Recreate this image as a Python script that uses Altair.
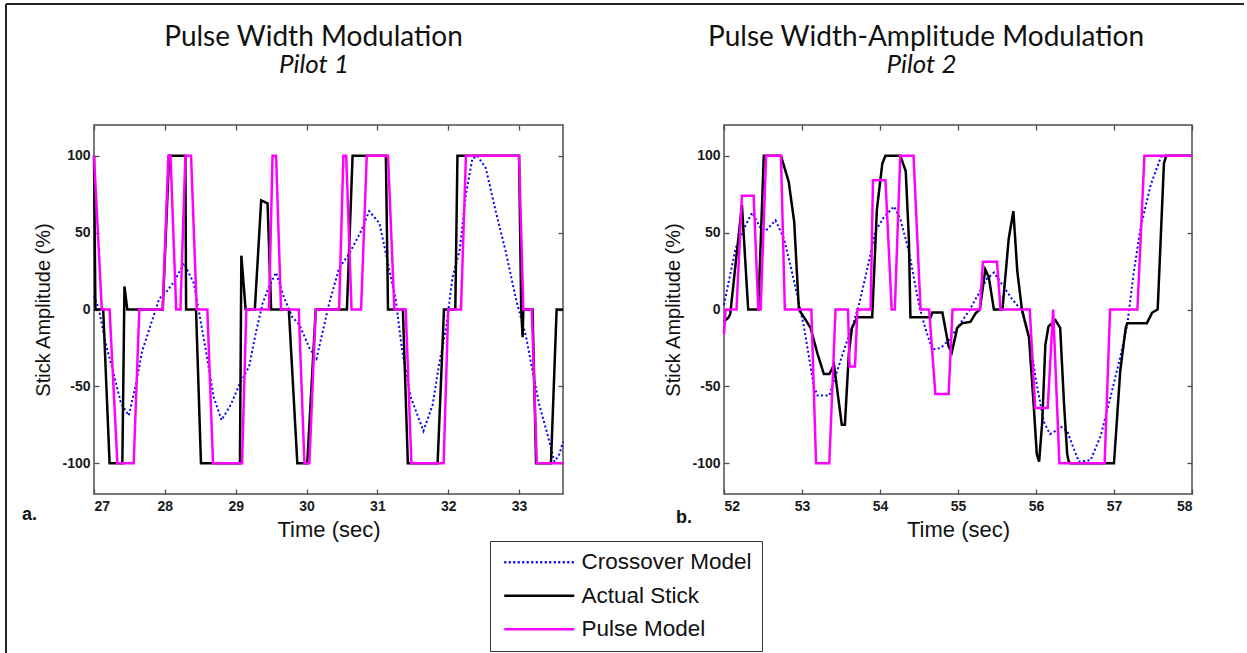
import altair as alt
import pandas as pd

SERIES = ["Crossover Model", "Actual Stick", "Pulse Model"]
COLORS = ["#0000FF", "#000000", "#FF00FF"]
DASHES = [[2, 2.5], [1, 0], [1, 0]]

# ---------------- Panel a: Pulse Width Modulation, Pilot 1 ----------------
a_cross_t = [27.0, 27.07, 27.165, 27.28, 27.38, 27.49, 27.59, 27.68, 27.80, 27.92, 28.03, 28.13,
             28.27, 28.41, 28.48, 28.58, 28.69, 28.80, 28.93, 29.05, 29.19, 29.28, 29.38, 29.47,
             29.57, 29.68, 29.80, 29.90, 30.04, 30.14, 30.22, 30.32, 30.46, 30.60, 30.77, 30.885,
             31.03, 31.14, 31.26, 31.35, 31.47, 31.65, 31.78, 31.87, 31.97, 32.06, 32.16, 32.25,
             32.34, 32.41, 32.53, 32.67, 32.81, 32.96, 33.10, 33.19, 33.285, 33.40, 33.50, 33.57, 33.62]
a_cross_v = [9, 0, -22, -42, -61, -69, -49, -27, -10, 7, 12, 18,
             30, 17, -1, -27, -57, -72, -62, -49, -37, -16, 4, 15,
             24, 8, -5, -10, -25, -32, -16, 4, 27, 36, 51, 64,
             56, 32, 6, -27, -57, -79, -62, -36, -12, 21, 38, 75,
             98, 100, 92, 64, 38, 6, -18, -40, -62, -81, -99, -94, -86]

a_stick_t = [27.0, 27.02, 27.13, 27.22, 27.40, 27.43, 27.47, 27.97, 28.06, 28.29, 28.30, 28.44,
             28.51, 29.06, 29.08, 29.14, 29.27, 29.36, 29.45, 29.50, 29.75, 29.87, 30.01, 30.13,
             30.57, 30.65, 31.12, 31.15, 31.36, 31.43, 31.85, 31.94, 32.10, 32.13, 33.0, 33.03,
             33.05, 33.06, 33.19, 33.24, 33.45, 33.53, 33.62]
a_stick_v = [100, 0, 0, -100, -100, 15, 0, 0, 100, 100, 0, 0,
             -100, -100, 35, 0, 0, 71, 69, 0, 0, -100, -100, 0,
             0, 100, 100, 0, 0, -100, -100, 0, 0, 100, 100, 0,
             -18, 0, 0, -100, -100, 0, 0]

a_pulse_t = [27.0, 27.11, 27.22, 27.33, 27.56, 27.64, 27.97, 28.05, 28.08, 28.16, 28.22, 28.29,
             28.37, 28.45, 28.60, 28.68, 29.09, 29.15, 29.47, 29.52, 29.57, 29.64, 29.89, 29.97,
             30.04, 30.13, 30.46, 30.52, 30.56, 30.635, 30.77, 30.85, 31.15, 31.24, 31.40, 31.48,
             31.935, 32.0, 32.18, 32.25, 33.0, 33.06, 33.18, 33.25, 33.62]
a_pulse_v = [100, 0, 0, -100, -100, 0, 0, 100, 100, 0, 0, 100,
             100, 0, 0, -100, -100, 0, 0, 100, 100, 0, 0, -100,
             -100, 0, 0, 100, 100, 0, 0, 100, 100, 0, 0, -100,
             -100, 0, 0, 100, 100, 0, 0, -100, -100]

# ---------------- Panel b: Pulse Width-Amplitude Modulation, Pilot 2 ----------------
b_cross_t = [52.0, 52.06, 52.15, 52.26, 52.36, 52.47, 52.53, 52.66, 52.77, 52.85, 52.94, 53.02,
             53.09, 53.15, 53.20, 53.35, 53.45, 53.56, 53.64, 53.73, 53.84, 53.94, 54.05, 54.18,
             54.26, 54.37, 54.50, 54.58, 54.67, 54.78, 54.88, 54.99, 55.03, 55.14, 55.25, 55.37,
             55.46, 55.57, 55.69, 55.82, 55.93, 56.01, 56.10, 56.18, 56.25, 56.31, 56.40, 56.48,
             56.55, 56.70, 56.83, 56.95, 57.08, 57.17, 57.25, 57.34, 57.47, 57.60, 57.62, 58.0]
b_cross_v = [3, 18, 40, 53, 63, 53, 51, 58, 46, 29, 9, -10,
             -31, -50, -56, -56, -40, -23, -12, 3, 27, 51, 60, 67,
             59, 38, 3, -12, -26, -25, -20, -12, -9, -1, 9, 20,
             24, 16, 7, -1, -23, -49, -73, -81, -79, -76, -79, -90,
             -99, -98, -82, -58, -31, -10, 23, 53, 81, 99, 100, 100]

b_stick_t = [52.0, 52.06, 52.08, 52.23, 52.31, 52.44, 52.51, 52.73, 52.83, 52.90, 52.96, 53.05,
             53.11, 53.20, 53.28, 53.35, 53.41, 53.51, 53.55, 53.60, 53.64, 53.71, 53.90, 53.96,
             54.03, 54.07, 54.26, 54.33, 54.37, 54.39, 54.65, 54.67, 54.80, 54.88, 54.92, 54.99,
             55.05, 55.16, 55.225, 55.28, 55.35, 55.395, 55.46, 55.57, 55.65, 55.71, 55.76, 55.82,
             55.91, 55.97, 56.01, 56.04, 56.08, 56.12, 56.16, 56.25, 56.31, 56.36, 56.40, 56.42,
             56.44, 57.0, 57.08, 57.15, 57.17, 57.42, 57.49, 57.56, 57.64, 57.67, 58.0]
b_stick_v = [-8, -5, -3, 68, 0, 0, 100, 100, 83, 57, 0, -7,
             -12, -29, -42, -42, -36, -75, -75, -29, -12, -5, -5, 65,
             95, 100, 100, 90, 46, -5, -5, -2, -2, -24, -28, -12,
             -9, -8, -2.5, 0, 26, 21, 0, 0, 46, 64, 25, 0,
             -18, -62, -94, -99, -73, -23, -11, -7, -12, -62, -94, -99,
             -100, -100, -40, -12, -9, -9, -2, 0, 95, 100, 100]

b_pulse_t = [52.0, 52.02, 52.16, 52.23, 52.38, 52.44, 52.47, 52.54, 52.73, 52.78, 53.12, 53.18,
             53.35, 53.43, 53.59, 53.61, 53.68, 53.71, 53.88, 53.91, 54.07, 54.15, 54.19, 54.26,
             54.43, 54.52, 54.63, 54.71, 54.88, 54.93, 55.28, 55.32, 55.50, 55.545, 55.92, 55.99,
             56.15, 56.22, 56.30, 56.88, 56.95, 57.30, 57.39, 58.0]
b_pulse_v = [-16, 0, 0, 74, 74, 0, 0, 100, 100, 0, 0, -100,
             -100, 0, 0, -37, -37, 0, 0, 84, 84, 0, 0, 100,
             100, 0, 0, -55, -55, 0, 0, 31, 31, 0, 0, -64,
             -64, 0, -100, -100, 0, 0, 100, 100]

Y_TICKS = [-100, -50, 0, 50, 100]
A_TICKS = [27, 28, 29, 30, 31, 32, 33]
B_TICKS = [52, 53, 54, 55, 56, 57, 58]

AXIS_FONT = "Liberation Sans"
W_A, W_B, H = 469, 468, 369


def frame_df(series, t, v):
    return pd.DataFrame({"series": series, "t": t, "v": v, "i": list(range(len(t)))})


def make_axes(kind, xvals, W):
    common = dict(domain=False, grid=False, tickColor="#4d4d4d", tickWidth=1.3)
    lab = dict(labelFont=AXIS_FONT, labelFontSize=14, labelFontWeight="bold",
               labelColor="#1a1a1a", labelExpr="'' + datum.value")
    if kind == "main":
        ax = alt.Axis(orient="bottom", values=xvals, ticks=False, tickSize=0,
                      labelPadding=5, titleFont=AXIS_FONT, titleFontSize=22,
                      titleFontWeight="normal", titleColor="#111111", titlePadding=6,
                      **lab, **common)
        ay = alt.Axis(orient="left", values=Y_TICKS, ticks=False, tickSize=0,
                      labelPadding=4, titleFont=AXIS_FONT, titleFontSize=20,
                      titleFontWeight="normal", titleColor="#111111", titlePadding=8,
                      **lab, **common)
    elif kind == "inner1":
        ax = alt.Axis(orient="top", offset=-H, values=xvals, labels=False, tickSize=5, **common)
        ay = alt.Axis(orient="right", offset=-W, values=Y_TICKS, labels=False, tickSize=5, **common)
    else:
        ax = alt.Axis(orient="bottom", offset=-H, values=xvals, labels=False, tickSize=5, **common)
        ay = alt.Axis(orient="left", offset=-W, values=Y_TICKS, labels=False, tickSize=5, **common)
    return ax, ay


def text_layer(txt, x, y, **kw):
    one = pd.DataFrame({"k": [0]})
    return alt.Chart(one).mark_text(text=txt, baseline="alphabetic", color="#111111", **kw).encode(
        x=alt.value(x), y=alt.value(y))


def panel(cross, stick, pulse, xdom, xvals, W, title, tx, subtitle, sx, tag, tag_x, tag_y, with_frame):
    color = alt.Color("series:N", title=None,
                      scale=alt.Scale(domain=SERIES, range=COLORS))
    dash = alt.StrokeDash("series:N", title=None,
                          scale=alt.Scale(domain=SERIES, range=DASHES))
    layers = []
    specs = [
        (frame_df(SERIES[0], *cross), "main", 2.0),
        (frame_df(SERIES[1], *stick), "inner1", 2.5),
        (frame_df(SERIES[2], *pulse), "inner2", 2.5),
    ]
    for df, kind, sw in specs:
        ax, ay = make_axes(kind, xvals, W)
        xtitle = "Time (sec)" if kind == "main" else None
        ytitle = "Stick Amplitude (%)" if kind == "main" else None
        layers.append(
            alt.Chart(df).mark_line(strokeWidth=sw, strokeCap="butt").encode(
                x=alt.X("t:Q", title=xtitle, axis=ax,
                        scale=alt.Scale(domain=xdom, nice=False, zero=False)),
                y=alt.Y("v:Q", title=ytitle, axis=ay,
                        scale=alt.Scale(domain=[-120, 120], nice=False)),
                color=color,
                strokeDash=dash,
                order=alt.Order("i:Q"),
            )
        )
    layers.append(text_layer(title, tx, -79, font="Lato", fontSize=28, align="center"))
    layers.append(text_layer(subtitle, sx, -52, font="Lato", fontSize=26, fontStyle="italic",
                             align="center"))
    layers.append(text_layer(tag, tag_x, tag_y, font=AXIS_FONT, fontSize=18, fontWeight="bold",
                             align="left"))
    if with_frame:
        one = pd.DataFrame({"k": [0]})
        layers.append(
            alt.Chart(one).mark_rule(color="#222222", strokeWidth=2).encode(
                x=alt.value(-88), y=alt.value(-121), y2=alt.value(528))
        )
        layers.append(
            alt.Chart(one).mark_rule(color="#222222", strokeWidth=2).encode(
                x=alt.value(-88), x2=alt.value(1150), y=alt.value(-121))
        )
    return alt.layer(*layers).resolve_axis(x="independent", y="independent").properties(
        width=W, height=H)


left = panel((a_cross_t, a_cross_v), (a_stick_t, a_stick_v), (a_pulse_t, a_pulse_v),
             [27, 33.62], A_TICKS, W_A, "Pulse Width Modulation", 219.5, "Pilot 1", 220,
             "a.", -72, 395, True)
right = panel((b_cross_t, b_cross_v), (b_stick_t, b_stick_v), (b_pulse_t, b_pulse_v),
              [52, 58], B_TICKS, W_B, "Pulse Width-Amplitude Modulation", 202, "Pilot 2", 197.5,
              "b.", -48, 398, False)

chart = alt.hconcat(left, right, spacing=161, bounds="flush").resolve_scale(
    color="shared", strokeDash="shared", x="independent", y="independent"
).properties(
    padding={"left": 4, "top": 2, "right": 0, "bottom": 0}
).configure_view(
    stroke="#4d4d4d", strokeWidth=1.5
).configure_legend(
    orient="none", legendX=396, legendY=416, direction="vertical",
    strokeColor="#333333", fillColor="white", padding=10,
    labelFont=AXIS_FONT, labelFontSize=22.5, labelColor="#111111", labelLimit=400,
    symbolType="M-1,0H9", symbolSize=196, symbolStrokeWidth=2.5, labelOffset=59,
    rowPadding=10.5
)

chart.save("out.html", embed_options={"renderer": "svg", "actions": False})
